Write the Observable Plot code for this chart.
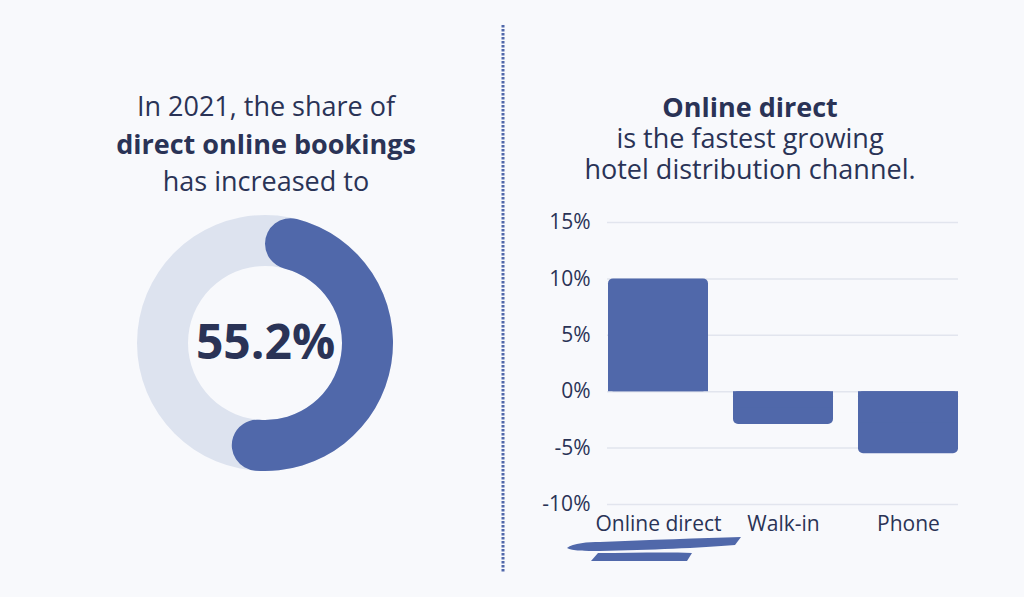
<!DOCTYPE html>
<html>
<head>
<meta charset="utf-8">
<script src="https://cdn.jsdelivr.net/npm/d3@7"></script>
<script src="https://cdn.jsdelivr.net/npm/@observablehq/plot@0.6"></script>
<style>
  html, body { margin: 0; padding: 0; background: #f8f9fc; }
  #root { position: relative; width: 1024px; height: 597px; background: #f8f9fc; font-family: "Open Sans", sans-serif; color: #2a3356; overflow: hidden; }
  .title { position: absolute; text-align: center; font-size: 27px; white-space: nowrap; transform: translateX(-50%); }
  .title b { font-weight: 700; }
  #leftTitle { left: 266px; top: 87px; line-height: 37.5px; }
  #rightTitle { left: 750px; top: 91px; line-height: 31px; }
  #donut, #bars { position: absolute; }
  #donut { left: 115px; top: 193px; }
  #bars { left: 520px; top: 200px; }
  #decor { position: absolute; left: 0; top: 0; }
</style>
</head>
<body>
<div id="root">
  <div id="leftTitle" class="title">In 2021, the share of<br><b>direct online bookings</b><br>has increased to</div>
  <div id="rightTitle" class="title"><b>Online direct</b><br>is the fastest growing<br>hotel distribution channel.</div>
  <div id="donut"></div>
  <div id="bars"></div>
  <svg id="decor" width="1024" height="597">
    <line x1="503" y1="25" x2="503" y2="573" stroke="#5068aa" stroke-width="3" stroke-dasharray="2.4 1.6"/>
    <path d="M567,548 C573,543 588,542 600,542 C650,540 700,538 741,537 L735,545 C700,548 650,550 600,551 C585,551 572,551 567,548 Z" fill="#5068aa"/>
    <path d="M598,553 C630,553 665,552 692,553 L687,561 C655,561 620,561 591,561 Z" fill="#5068aa"/>
  </svg>
</div>
<script>
// Donut data
const shareLabel = "55.2%";
const shareValue = 55.2;
const shareRest = 44.8;

// Bar data
const channels = ["Online direct", "Walk-in", "Phone"];
const growth = [10, -2.9, -5.5];
const yTicks = [-10, -5, 0, 5, 10, 15];

const colorDark = "#5068aa";
const colorLight = "#dde3ef";
const textColor = "#2a3356";

// ----- Donut -----
const pieData = d3.pie().sort(null)([shareValue, shareRest]);
const outerR = 128, innerR = 77;

function donutMark(index, scales, values, dims) {
  const g = d3.create("svg:g")
    .attr("transform", `translate(${dims.width / 2},${dims.height / 2})`);
  g.append("path")
    .attr("d", d3.arc().innerRadius(innerR).outerRadius(outerR)({startAngle: 0, endAngle: 2 * Math.PI}))
    .attr("fill", colorLight);
  g.append("path")
    .attr("d", d3.arc().innerRadius(innerR).outerRadius(outerR).cornerRadius((outerR - innerR) / 2)(pieData[0]))
    .attr("fill", colorDark);
  return g.node();
}

const donut = Plot.plot({
  width: 300,
  height: 300,
  margin: 0,
  style: {background: "transparent", fontFamily: "Open Sans, sans-serif"},
  marks: [
    donutMark,
    Plot.text([shareLabel], {frameAnchor: "middle", text: d => d, fontSize: 48, fontWeight: 700, fill: textColor})
  ]
});
document.getElementById("donut").append(donut);

// ----- Bars -----
const rows = channels.map((c, i) => ({channel: c, value: growth[i]}));

const bars = Plot.plot({
  width: 460,
  height: 345,
  marginTop: 22,
  marginBottom: 41,
  marginLeft: 87,
  marginRight: 22,
  style: {background: "transparent", fontFamily: "Open Sans, sans-serif", color: textColor},
  x: {domain: channels, paddingInner: 0.2, paddingOuter: 0, label: null},
  y: {domain: [-10, 15], label: null},
  marks: [
    Plot.ruleY(yTicks, {stroke: "#e2e5ee", strokeWidth: 1.5}),
    Plot.barY(rows, {x: "channel", y: "value", fill: colorDark, rx: 5}),
    Plot.barY(rows, {x: "channel", y1: 0, y2: d => d.value / 2, fill: colorDark}),
    Plot.axisY({ticks: yTicks, tickFormat: d => d + "%", tickSize: 0, tickPadding: 17, fontSize: 21, fill: textColor, label: null}),
    Plot.axisX({tickSize: 0, tickPadding: 12, fontSize: 21, fill: textColor, label: null})
  ]
});
document.getElementById("bars").append(bars);
</script>
</body>
</html>
